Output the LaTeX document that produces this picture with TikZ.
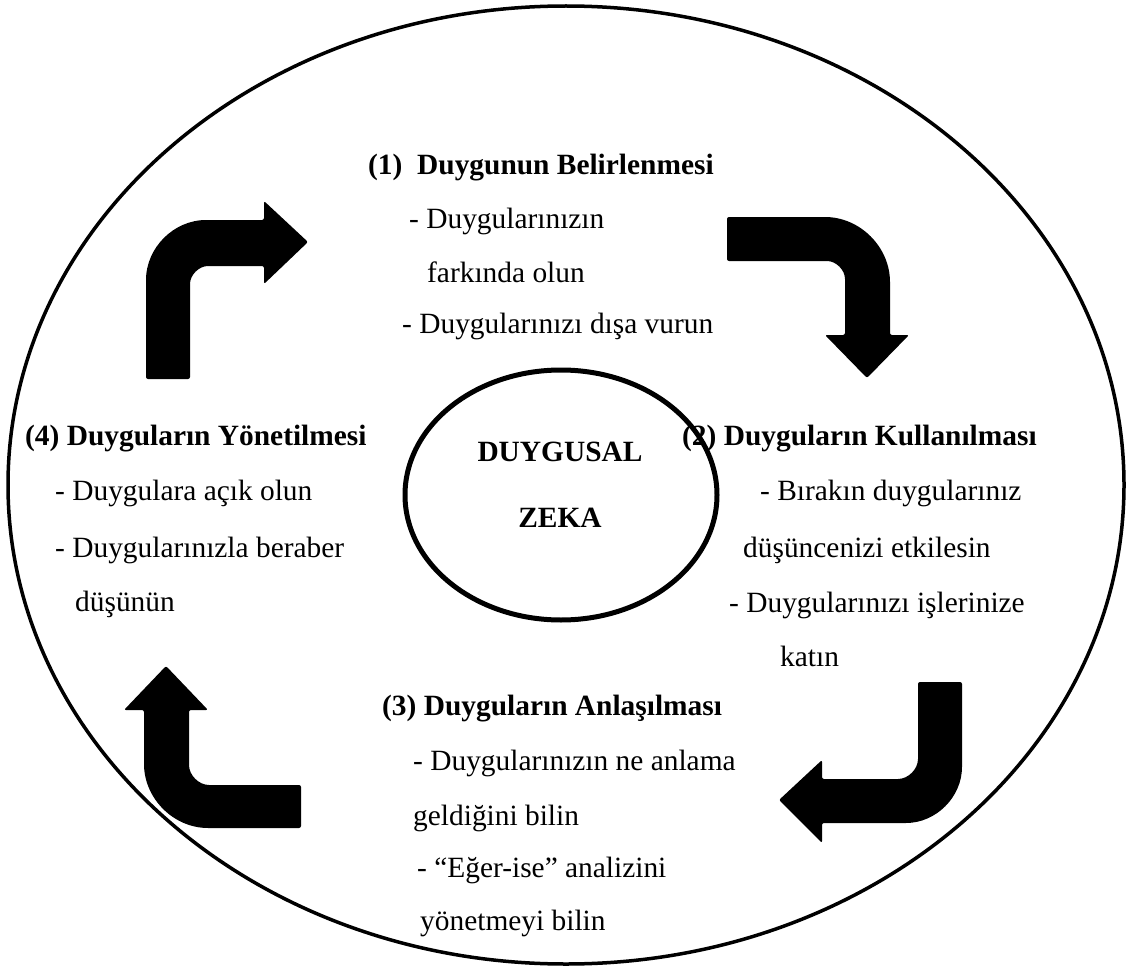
\documentclass[tikz,border=0pt]{standalone}
\usepackage{fontspec}
\setmainfont{Liberation Serif}
\begin{document}
\begin{tikzpicture}[x=1pt,y=-1pt,
  txt/.style={inner sep=0pt,anchor=base west,font=\fontsize{29.4}{35}\selectfont},
  hd/.style={txt,font=\fontsize{29.4}{35}\selectfont\bfseries},
  bigarrow/.style={fill=black,rounded corners=2pt}]
\useasboundingbox (0,0) rectangle (1133,971);
\fill[white] (0,0) rectangle (1133,971);

% outer ellipse
\draw[line width=3.5pt] (566,485) ellipse [x radius=558, y radius=479];

% arrows
\path[bigarrow] (146,379) -- (146,282) arc[start angle=180,end angle=270,radius=62]
  -- (264,220) -- (264,201) -- (308,242) -- (264,284) -- (264,266) -- (210,266)
  arc[start angle=270,end angle=180,radius=20] -- (190,379) -- cycle;

\path[bigarrow] (727,217) -- (823,217) arc[start angle=270,end angle=360,radius=67]
  -- (890,335) -- (909,335) -- (867,378) -- (825,335) -- (845,335) -- (845,281)
  arc[start angle=0,end angle=-90,radius=20] -- (727,261) -- cycle;

\path[bigarrow] (918,682) -- (962,682) -- (962,765) arc[start angle=0,end angle=90,radius=58]
  -- (822,823) -- (822,843) -- (779,800) -- (822,760) -- (822,779) -- (896,779)
  arc[start angle=90,end angle=0,radius=22] -- cycle;

\path[bigarrow] (301,785) -- (211,785) arc[start angle=90,end angle=180,radius=22]
  -- (189,710) -- (208,710) -- (166,666) -- (124,710) -- (144,710) -- (144,762)
  arc[start angle=180,end angle=90,radius=66] -- (301,828) -- cycle;

% block 1
\node[hd]  (h1)  at (368,175) {(1)\ \ Duygunun Belirlenmesi};
\node[txt] (t1a) at (409,229) {- Duygularınızın};
\node[txt] (t1b) at (427,282) {farkında olun};
\node[txt] (t1c) at (402,333) {- Duygularınızı dışa vurun};

% block 4
\node[hd]  (h4)  at (25,445) {(4) Duyguların Yönetilmesi};
\node[txt] (t4a) at (55,500) {- Duygulara açık olun};
\node[txt] (t4b) at (55,557) {- Duygularınızla beraber};
\node[txt] (t4c) at (75,611) {düşünün};

% block 2
\node[hd]  (h2)  at (682,445) {(2) Duyguların Kullanılması};
\node[txt] (t2a) at (760,500) {- Bırakın duygularınız};
\node[txt] (t2b) at (743,557) {düşüncenizi etkilesin};
\node[txt] (t2c) at (729,612) {- Duygularınızı işlerinize};
\node[txt] (t2d) at (780,666) {katın};

% block 3
\node[hd]  (h3)  at (382,715) {(3) Duyguların Anlaşılması};
\node[txt] (t3a) at (413,770) {- Duygularınızın ne anlama};
\node[txt] (t3b) at (413,825) {geldiğini bilin};
\node[txt] (t3c) at (417,877) {- “Eğer-ise” analizini};
\node[txt] (t3d) at (420,930) {yönetmeyi bilin};

% center
\draw[line width=5pt] (561,495) ellipse [x radius=156, y radius=125];
\node[hd,anchor=base] (c1) at (560,461) {DUYGUSAL};
\node[hd,anchor=base] (c2) at (560,527) {ZEKA};
\end{tikzpicture}
\end{document}
